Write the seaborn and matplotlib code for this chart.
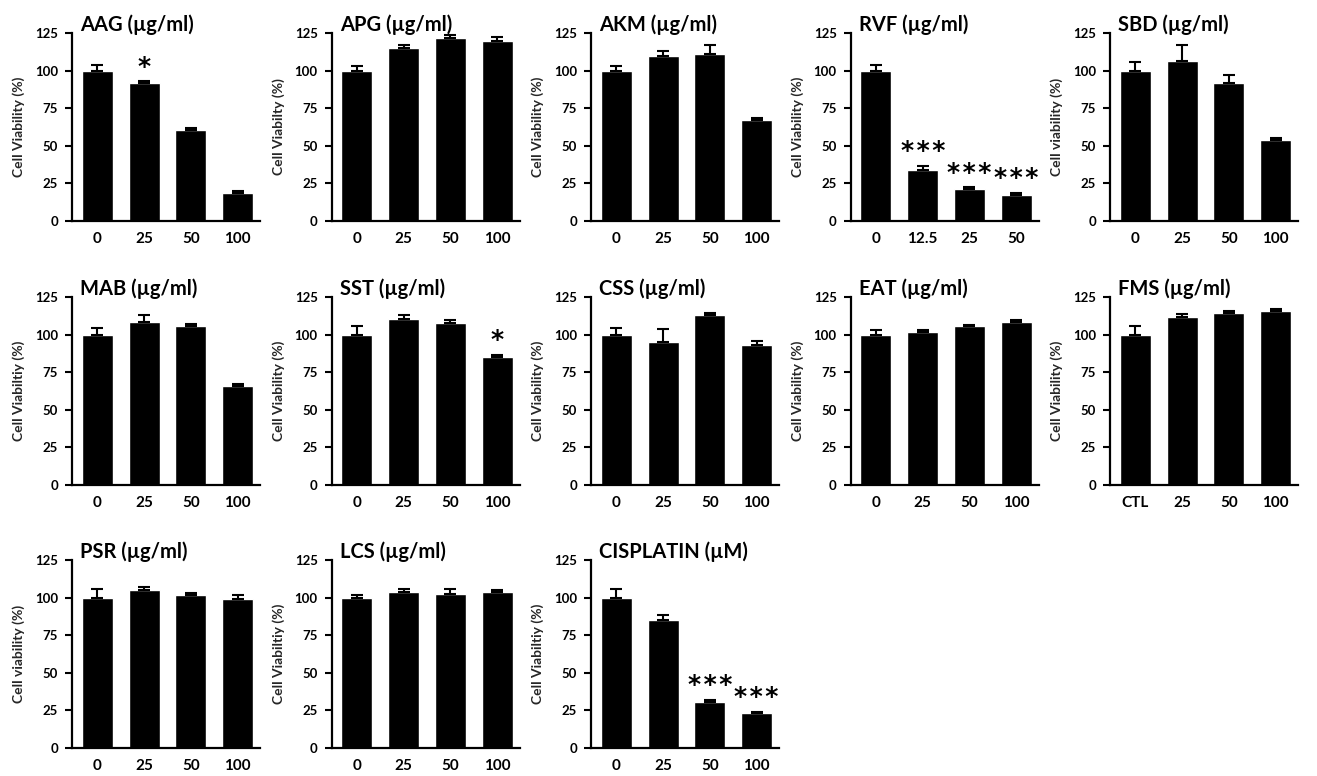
import matplotlib
matplotlib.use("Agg")
import matplotlib.pyplot as plt
import seaborn as sns
import pandas as pd
import numpy as np

# ---------------- data ----------------
dose_std = ["0", "25", "50", "100"]
dose_rvf = ["0", "12.5", "25", "50"]
dose_fms = ["CTL", "25", "50", "100"]

AAG_val = [100, 91.8, 60.7, 18.7]
AAG_err = [3.6, 1.1, 0.9, 1.1]
AAG_sig = ["", "*", "", ""]

APG_val = [100, 115.3, 121.8, 120.0]
APG_err = [3.3, 1.7, 2.2, 2.2]
APG_sig = ["", "", "", ""]

AKM_val = [100, 109.6, 111.1, 66.9]
AKM_err = [3.3, 3.3, 5.8, 1.8]
AKM_sig = ["", "", "", ""]

RVF_val = [100, 33.6, 21.1, 17.3]
RVF_err = [3.6, 3.1, 1.3, 1.4]
RVF_sig = ["", "***", "***", "***"]

SBD_val = [100, 106.4, 91.8, 53.6]
SBD_err = [5.5, 10.9, 5.5, 1.3]
SBD_sig = ["", "", "", ""]

MAB_val = [100, 108.7, 105.6, 66.0]
MAB_err = [4.4, 4.0, 1.5, 0.9]
MAB_sig = ["", "", "", ""]

SST_val = [100, 110.7, 107.6, 84.9]
SST_err = [5.6, 2.6, 2.0, 1.8]
SST_sig = ["", "", "", "*"]

CSS_val = [100, 95.1, 112.7, 92.9]
CSS_err = [4.4, 8.7, 1.7, 2.7]
CSS_sig = ["", "", "", ""]

EAT_val = [100, 101.6, 105.6, 108.7]
EAT_err = [3.3, 1.7, 0.8, 1.3]
EAT_sig = ["", "", "", ""]

FMS_val = [100, 111.5, 114.6, 116.0]
FMS_err = [5.5, 2.2, 1.1, 0.8]
FMS_sig = ["", "", "", ""]

PSR_val = [100, 105.1, 101.8, 99.3]
PSR_err = [5.6, 2.2, 1.1, 2.3]
PSR_sig = ["", "", "", ""]

LCS_val = [100, 103.8, 102.7, 103.8]
LCS_err = [1.6, 1.8, 2.9, 1.1]
LCS_sig = ["", "", "", ""]

CIS_val = [100, 85.1, 30.4, 23.3]
CIS_err = [5.6, 3.1, 1.8, 0.7]
CIS_sig = ["", "", "***", "***"]

titles = ["AAG (µg/ml)", "APG (µg/ml)", "AKM (µg/ml)", "RVF (µg/ml)", "SBD (µg/ml)",
          "MAB (µg/ml)", "SST (µg/ml)", "CSS (µg/ml)", "EAT (µg/ml)", "FMS (µg/ml)",
          "PSR (µg/ml)", "LCS (µg/ml)", "CISPLATIN (µM)"]
ylabels = ["Cell Viability (%)", "Cell Viabilty (%)", "Cell Viability (%)", "Cell Viability (%)",
           "Cell viability (%)", "Cell Viabiltiy (%)", "Cell Viability (%)", "Cell Viability (%)",
           "Cell Viability (%)", "Cell Viability (%)", "Cell viability (%)", "Cell Viabiltiy (%)",
           "Cell Viabiltiy (%)"]
doses = [dose_std, dose_std, dose_std, dose_rvf, dose_std,
         dose_std, dose_std, dose_std, dose_std, dose_fms,
         dose_std, dose_std, dose_std]
values = [AAG_val, APG_val, AKM_val, RVF_val, SBD_val, MAB_val, SST_val, CSS_val,
          EAT_val, FMS_val, PSR_val, LCS_val, CIS_val]
errors = [AAG_err, APG_err, AKM_err, RVF_err, SBD_err, MAB_err, SST_err, CSS_err,
          EAT_err, FMS_err, PSR_err, LCS_err, CIS_err]
sigs = [AAG_sig, APG_sig, AKM_sig, RVF_sig, SBD_sig, MAB_sig, SST_sig, CSS_sig,
        EAT_sig, FMS_sig, PSR_sig, LCS_sig, CIS_sig]
yticks = [0, 25, 50, 75, 100, 125]

# ---------------- style ----------------
sns.set_style("ticks")
plt.rcParams["font.family"] = ["Lato", "DejaVu Sans"]
plt.rcParams["font.weight"] = "bold"

W, H = 1317, 776
fig = plt.figure(figsize=(W / 100, H / 100), dpi=100)

col_left = [72, 331.5, 591, 850.5, 1110]
row_bottom = [221, 485, 748]
ax_w, ax_h = 188, 188

for i in range(len(titles)):
    r, c = divmod(i, 5)
    left = col_left[c]
    bottom = row_bottom[r]
    ax = fig.add_axes([left / W, 1 - bottom / H, ax_w / W, ax_h / H])
    df = pd.DataFrame({"dose": doses[i], "viability": values[i]})
    sns.barplot(data=df, x="dose", y="viability", order=doses[i], color="black",
                saturation=1, width=0.664, errorbar=None, ax=ax, zorder=2)
    xs = np.arange(len(doses[i]))
    err = np.array(errors[i])
    ax.errorbar(xs, values[i], yerr=[np.zeros_like(err), err], fmt="none",
                ecolor="black", elinewidth=1.5, capsize=4, capthick=1.5, zorder=3)
    for x, v, e, s in zip(xs, values[i], err, sigs[i]):
        if s:
            ax.text(x, v + e + 5, "\u200a".join(s), ha="center", va="baseline",
                    fontsize=18, fontweight="bold", family="DejaVu Sans", color="black")
    ax.set_xlim(-0.546, 3.48)
    ax.set_ylim(0, 125)
    ax.set_yticks(yticks)
    ax.set_yticklabels([str(t) for t in yticks], fontsize=9.5, fontweight="bold")
    ax.set_xticks(xs)
    ax.set_xticklabels(doses[i], fontsize=11, fontweight="bold")
    ax.tick_params(axis="y", direction="out", length=5, width=1.5, pad=5, colors="black")
    ax.tick_params(axis="x", length=0, pad=8, colors="black")
    ax.set_xlabel("")
    ax.set_ylabel(ylabels[i], fontsize=10, fontweight="bold", labelpad=7)
    sns.despine(ax=ax)
    for sp in ["left", "bottom"]:
        ax.spines[sp].set_linewidth(1.6)
        ax.spines[sp].set_color("black")
    ax.text(0.045, 1.012, titles[i], transform=ax.transAxes, ha="left", va="baseline",
            fontsize=14.5, fontweight="bold", color="black")

fig.savefig("out.png", dpi=100, facecolor="white")
